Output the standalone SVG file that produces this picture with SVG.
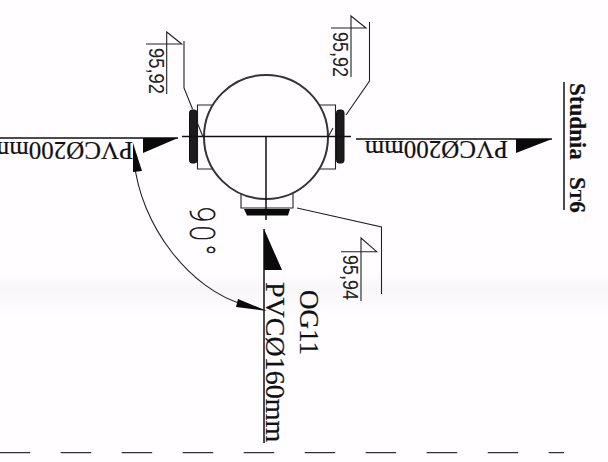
<svg xmlns="http://www.w3.org/2000/svg" width="608" height="462" viewBox="0 0 608 462">
<defs>
<linearGradient id="band" x1="0" y1="0" x2="0" y2="1">
<stop offset="0" stop-color="#f8f6f9" stop-opacity="0"/>
<stop offset="0.35" stop-color="#f8f6f9"/>
<stop offset="1" stop-color="#f8f6f9" stop-opacity="0"/>
</linearGradient>
</defs>
<style>
.l{fill:none;stroke:#222;stroke-width:1.1}
.m{fill:none;stroke:#111;stroke-width:1.5}
.k{fill:#0a0a0a;stroke:none}
.g{fill:#1c1c1c;stroke:#111;stroke-width:1}
.t{font-family:"Liberation Serif","Times New Roman",serif;fill:#111;stroke:#111;stroke-width:.2}
.s{font-family:"Liberation Sans",Arial,sans-serif;fill:#222}
</style>
<rect width="608" height="462" fill="#fffdff"/>
<rect y="273" width="608" height="44" fill="url(#band)"/>
<g id="well">
<path class="l" d="M213,105H197.500V169H213M319,105H335.500V169H319M241,193.500V208H293V193.500"/>
<circle cx="266" cy="137" r="62" fill="none" stroke="#333" stroke-width="2"/>
<rect class="g" x="189.500" y="110" width="7.500" height="53" rx="2.500"/>
<rect class="g" x="336.500" y="110" width="7.500" height="53" rx="2.500"/>
<path class="k" d="M244,209H290L288,215.500H247Z"/>
<path class="m" d="M182,136.500H351M266,137V220"/>
<path class="l" d="M197,122L203,137M333,128L328,137"/>
</g>
<g id="connectors">
<path class="m" d="M0,138H178M356,139H552M264,229V443"/>
<path class="k" d="M178,138L143,138V153Z"/>
<path class="k" d="M552,139L516,139V153Z"/>
<path class="k" d="M264,229L264,270H282Z"/>
<path class="l" d="M134,160C140,225 190,290 245,305"/>
<path class="k" d="M133,143L133,172L142,171Z"/>
<path class="k" d="M267,311L238,299L236,307Z"/>
<path class="l" d="M192.500,109L184,88V41"/>
<path class="l" d="M346,115L369.500,81V22"/>
<path class="l" d="M297,208L381.500,227V294"/>
<path d="M-0.300,452.700H564" fill="none" stroke="#333" stroke-width="1.200" stroke-dasharray="30.500 30.500"/>
</g>
<g id="flag-left">
<path class="l" d="M166.700,94V32L181.700,44H146"/>
<text class="s" transform="translate(149,48) rotate(90)" font-size="22" textLength="46" lengthAdjust="spacingAndGlyphs">95,92</text>
</g>
<g id="flag-right">
<path class="l" d="M351,77V16L366,28H331"/>
<text class="s" transform="translate(333,32) rotate(90)" font-size="22" textLength="45" lengthAdjust="spacingAndGlyphs">95,92</text>
</g>
<g id="flag-bottom">
<path class="l" d="M361,301V238L376.700,251.700H341"/>
<text class="s" transform="translate(343,255) rotate(90)" font-size="22" textLength="45" lengthAdjust="spacingAndGlyphs">95,94</text>
</g>
<g id="labels">
<text class="t" transform="translate(133,142) rotate(180)" font-size="25">PVCØ200mm</text>
<text class="t" transform="translate(508,141) rotate(180)" font-size="25">PVCØ200mm</text>
<text class="t" transform="translate(266,282) rotate(90)" font-size="28">PVCØ160mm</text>
<text class="t" transform="translate(300,290) rotate(90)" font-size="27">OG11</text>
<text transform="translate(190,207) rotate(90) scale(.78,1)" font-family="Roboto,'Liberation Sans',sans-serif" font-weight="100" fill="#111" stroke="#111" stroke-width=".7" font-size="35" letter-spacing="5">90°</text>
<g id="title">
<text class="t" transform="translate(570,83) rotate(90)" font-size="23" font-weight="700">Studnia<tspan x="94">S</tspan><tspan font-size="17">T</tspan><tspan font-size="23">6</tspan></text>
<path class="m" d="M564,82V210"/>
</g>
</g>
</svg>
